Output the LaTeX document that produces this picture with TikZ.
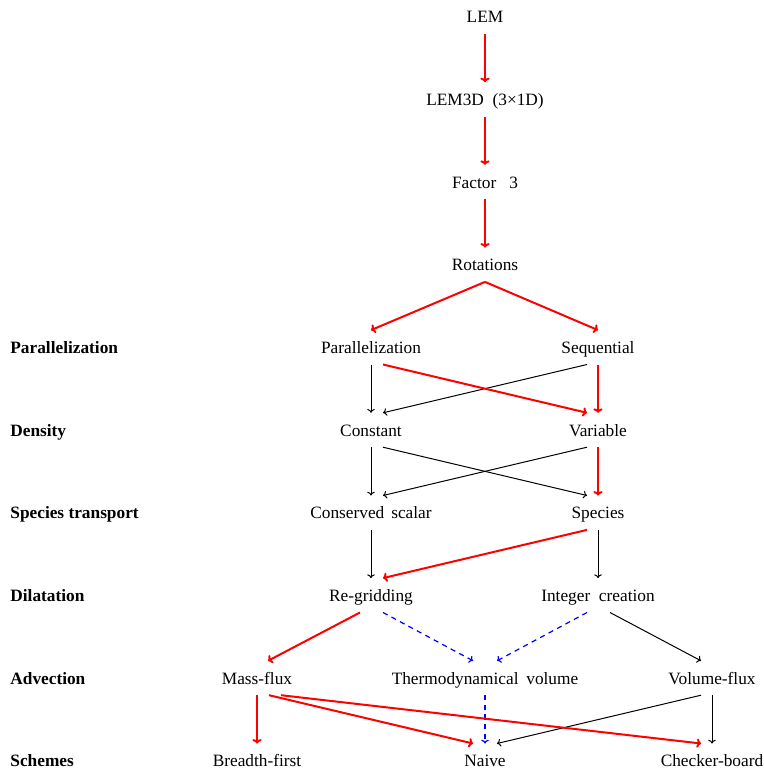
\documentclass[tikz,border=0pt]{standalone}
\usepackage{fontspec}
\setmainfont{Liberation Serif}
\usetikzlibrary{calc,arrows.meta}

\tikzset{
  item/.style={inner sep=0pt, text height=11.5pt, text depth=5.3pt,
               font=\fontsize{8.65pt}{10pt}\selectfont},
  cat/.style={item, anchor=west, font=\fontsize{8.65pt}{10pt}\selectfont\bfseries},
  redarr/.style={-{To[length=2.2pt, width=4.6pt]}, draw=red, line width=1pt},
  blkarr/.style={-{To[length=1.9pt, width=3.8pt]}, draw=black, line width=0.5pt},
  bluarr/.style={-{To[length=1.9pt, width=3.8pt]}, draw=blue, line width=0.6pt,
                 dash pattern=on 2.6pt off 2.2pt},
}

\begin{document}
\begin{tikzpicture}[x=0.5pt, y=-0.5pt]
  \useasboundingbox (0,0) rectangle (764,772);

  % main chain
  \node[item] (lem)  at (485,16.7)  {LEM};
  \node[item] (lemd) at (485,99.3)  {LEM3D\hspace{0.5em}(3×1D)};
  \node[item] (fac)  at (485,182)   {Factor\hspace{0.75em}3};
  \node[item] (rot)  at (485,264.7) {Rotations};

  % option levels
  \node[item] (par) at (371,347.3) {Parallelization};
  \node[item] (seq) at (598,347.3) {Sequential};
  \node[item] (con) at (371,430)   {Constant};
  \node[item] (var) at (598,430)   {Variable};
  \node[item] (csc) at (371,512.7) {Conserved\hspace{0.4em}scalar};
  \node[item] (spe) at (598,512.7) {Species};
  \node[item] (reg) at (371,595.3) {Re-gridding};
  \node[item] (int) at (598,595.3) {Integer\hspace{0.5em}creation};
  \node[item] (mas) at (257,678)   {Mass-flux};
  \node[item] (thv) at (485,678)   {Thermodynamical\hspace{0.45em}volume};
  \node[item] (vol) at (712,678)   {Volume-flux};
  \node[item] (bre) at (257,760.7) {Breadth-first};
  \node[item] (nai) at (485,760.7) {Naive};
  \node[item] (che) at (712,760.7) {Checker-board};

  % level headings
  \node[cat] (hpar) at (10,347.3) {Parallelization};
  \node[cat] (hden) at (10,430)   {Density};
  \node[cat] (hspe) at (10,512.7) {Species transport};
  \node[cat] (hdil) at (10,595.3) {Dilatation};
  \node[cat] (hadv) at (10,678)   {Advection};
  \node[cat] (hsch) at (10,760.7) {Schemes};

  % black connectors
  \draw[blkarr] (par.south) -- (con.north);
  \draw[blkarr] ($(seq.south)+(-11,0)$) -- ($(con.north)+(12,0)$);
  \draw[blkarr] (con.south) -- (csc.north);
  \draw[blkarr] ($(con.south)+(12,0)$) -- ($(spe.north)+(-11,0)$);
  \draw[blkarr] ($(var.south)+(-11,0)$) -- ($(csc.north)+(12,0)$);
  \draw[blkarr] (csc.south) -- (reg.north);
  \draw[blkarr] (spe.south) -- (int.north);
  \draw[blkarr] ($(int.south)+(12,0)$) -- ($(vol.north)+(-11,0)$);
  \draw[blkarr] ($(vol.south)+(-11,0)$) -- ($(nai.north)+(12,0)$);
  \draw[blkarr] (vol.south) -- (che.north);

  % blue dashed connectors
  \draw[bluarr] ($(reg.south)+(12,0)$) -- ($(thv.north)+(-12,0)$);
  \draw[bluarr] ($(int.south)+(-11,0)$) -- ($(thv.north)+(12,0)$);
  \draw[bluarr] (thv.south) -- (nai.north);

  % red connectors
  \draw[redarr] (lem.south) -- (lemd.north);
  \draw[redarr] (lemd.south) -- (fac.north);
  \draw[redarr] (fac.south) -- (rot.north);
  \draw[redarr] (rot.south) -- (par.north);
  \draw[redarr] (rot.south) -- (seq.north);
  \draw[redarr] ($(par.south)+(12,0)$) -- ($(var.north)+(-11,0)$);
  \draw[redarr] (seq.south) -- (var.north);
  \draw[redarr] (var.south) -- (spe.north);
  \draw[redarr] ($(spe.south)+(-11,0)$) -- ($(reg.north)+(12,0)$);
  \draw[redarr] ($(reg.south)+(-11,0)$) -- ($(mas.north)+(11,0)$);
  \draw[redarr] (mas.south) -- (bre.north);
  \draw[redarr] ($(mas.south)+(12,0)$) -- ($(nai.north)+(-12,0)$);
  \draw[redarr] ($(mas.south)+(24,0)$) -- ($(che.north)+(-11,0)$);
\end{tikzpicture}
\end{document}
